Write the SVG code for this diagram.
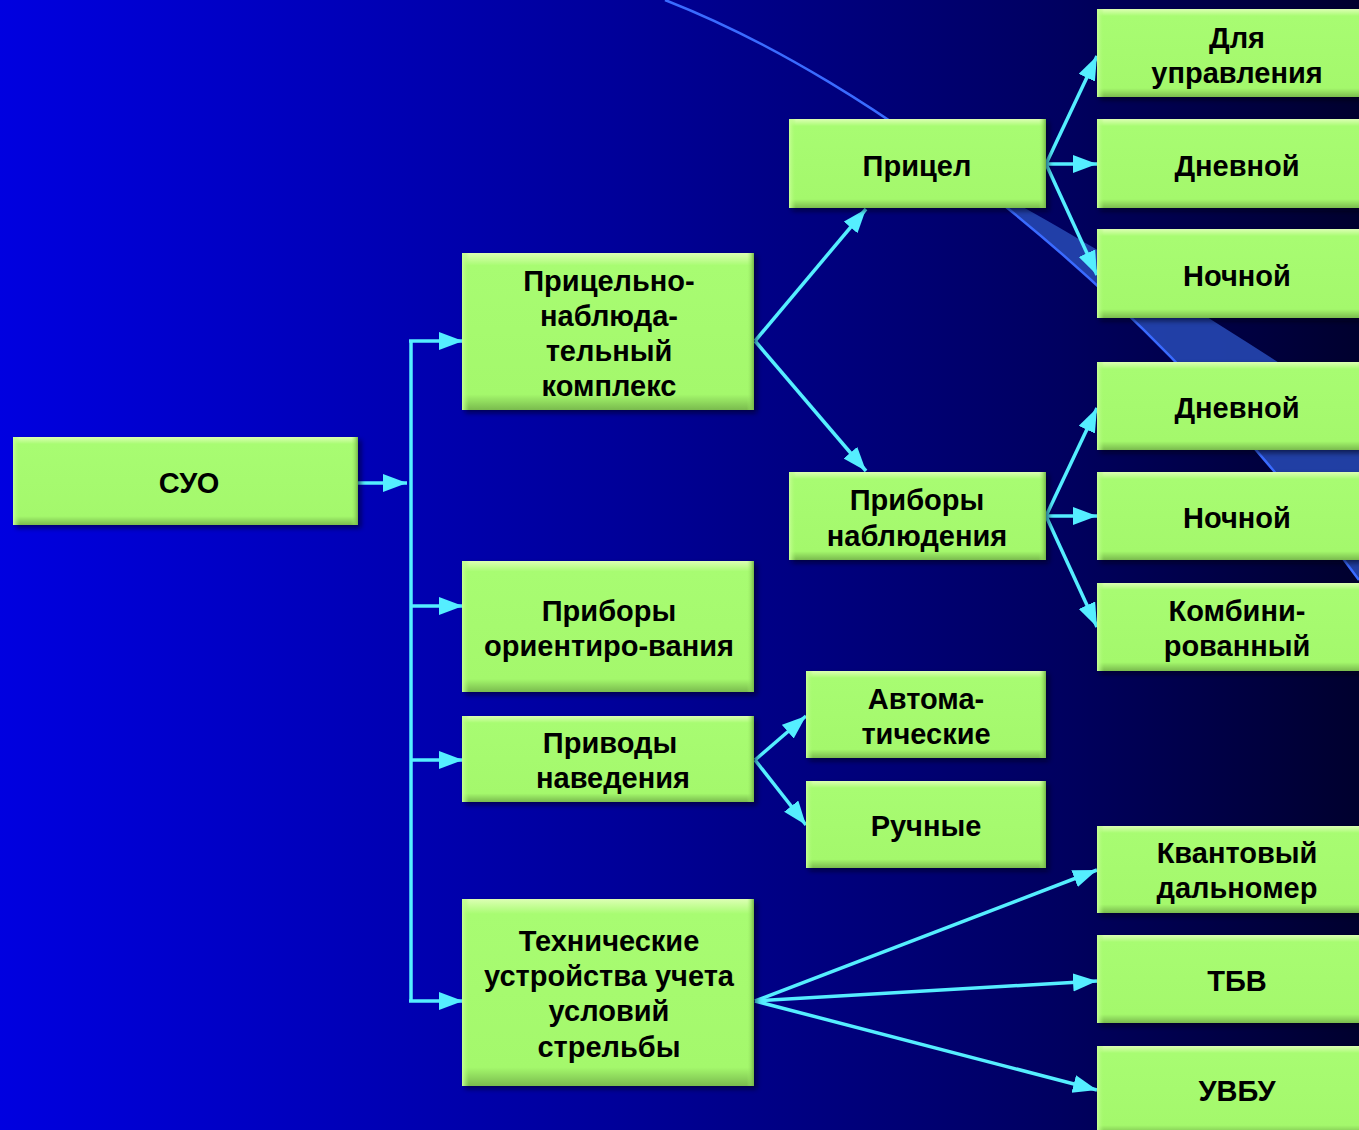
<svg xmlns="http://www.w3.org/2000/svg" width="1359" height="1130" viewBox="0 0 1359 1130">
<defs>
<linearGradient id="bg" x1="0" y1="0" x2="1" y2="0">
<stop offset="0" stop-color="#0000E0"/>
<stop offset="0.45" stop-color="#00009A"/>
<stop offset="0.78" stop-color="#000060"/>
<stop offset="1" stop-color="#00002E"/>
</linearGradient>
<linearGradient id="boxfill" x1="0" y1="0" x2="0" y2="1">
<stop offset="0" stop-color="#DDFFB4"/>
<stop offset="0.08" stop-color="#A8FC72"/>
<stop offset="0.9" stop-color="#A4F86C"/>
<stop offset="1" stop-color="#7ABB4E"/>
</linearGradient>
<linearGradient id="rshade" x1="0" y1="0" x2="1" y2="0">
<stop offset="0" stop-color="#A4F86C" stop-opacity="0"/>
<stop offset="1" stop-color="#74B548"/>
</linearGradient>
<linearGradient id="lhl" x1="0" y1="0" x2="1" y2="0">
<stop offset="0" stop-color="#C8FF98"/>
<stop offset="1" stop-color="#A6FA6E" stop-opacity="0"/>
</linearGradient>
<filter id="sh" x="-10%" y="-10%" width="130%" height="130%">
<feGaussianBlur stdDeviation="2.5"/>
</filter>
<marker id="ah" markerUnits="userSpaceOnUse" markerWidth="26" markerHeight="20" refX="24" refY="9" orient="auto">
<path d="M0,0 L24,9 L0,18 Z" fill="#55EEFF"/>
</marker>
<style>
.sh{fill:#000010;opacity:0.55;filter:url(#sh)}
.bx{fill:url(#boxfill)}
.rs{fill:url(#rshade)}
.lh{fill:url(#lhl)}
text{font-family:"Liberation Sans",Arial,sans-serif;font-weight:bold;font-size:29px;fill:#000;text-anchor:middle}
.cn{stroke:#55EEFF;stroke-width:3.5;fill:none}
</style>
</defs>
<rect x="0" y="0" width="1359" height="1130" fill="url(#bg)"/>
<g id="background-arc">
<path d="M970.7,179.1 C1060,225 1200,310 1359,415 L1359,580 C1238.55,415 1102.7,280.25 970.7,179.1 Z" fill="#2546B0" opacity="0.9"/>
<path d="M665,0 C870,80 1140,280 1359,580" fill="none" stroke="#3A6BFF" stroke-width="2.5"/>
</g>
<g id="connectors">
<path class="cn" d="M358,483 H407" marker-end="url(#ah)"/>
<path class="cn" d="M411,341 V1001"/>
<path class="cn" d="M409,341 H463" marker-end="url(#ah)"/>
<path class="cn" d="M411,606 H463" marker-end="url(#ah)"/>
<path class="cn" d="M411,760 H463" marker-end="url(#ah)"/>
<path class="cn" d="M409,1001 H463" marker-end="url(#ah)"/>
<path class="cn" d="M755,341 L866,209" marker-end="url(#ah)"/>
<path class="cn" d="M755,341 L866,471" marker-end="url(#ah)"/>
<path class="cn" d="M1046,164 L1097,56" marker-end="url(#ah)"/>
<path class="cn" d="M1046,164 L1097,164" marker-end="url(#ah)"/>
<path class="cn" d="M1046,164 L1097,275" marker-end="url(#ah)"/>
<path class="cn" d="M1046,516 L1097,408" marker-end="url(#ah)"/>
<path class="cn" d="M1046,516 L1097,516" marker-end="url(#ah)"/>
<path class="cn" d="M1046,516 L1097,627" marker-end="url(#ah)"/>
<path class="cn" d="M755,760 L806,716" marker-end="url(#ah)"/>
<path class="cn" d="M755,760 L806,825" marker-end="url(#ah)"/>
<path class="cn" d="M755,1001 L1097,870" marker-end="url(#ah)"/>
<path class="cn" d="M755,1001 L1097,981" marker-end="url(#ah)"/>
<path class="cn" d="M755,1001 L1097,1090" marker-end="url(#ah)"/>
</g>
<g id="node-suo">
<rect class="sh" x="16" y="440" width="345" height="88"/>
<rect class="bx" x="13" y="437" width="345" height="88"/>
<rect class="lh" x="13" y="437" width="7" height="88"/>
<rect class="rs" x="351" y="437" width="7" height="88"/>
<text x="189" y="493">СУО</text>
</g>
<g id="node-pnk">
<rect class="sh" x="465" y="256" width="292" height="157"/>
<rect class="bx" x="462" y="253" width="292" height="157"/>
<rect class="lh" x="462" y="253" width="7" height="157"/>
<rect class="rs" x="747" y="253" width="7" height="157"/>
<text x="609" y="291">Прицельно-</text>
<text x="609" y="326">наблюда-</text>
<text x="609" y="361">тельный</text>
<text x="609" y="396">комплекс</text>
</g>
<g id="node-orient">
<rect class="sh" x="465" y="564" width="292" height="131"/>
<rect class="bx" x="462" y="561" width="292" height="131"/>
<rect class="lh" x="462" y="561" width="7" height="131"/>
<rect class="rs" x="747" y="561" width="7" height="131"/>
<text x="609" y="621">Приборы</text>
<text x="609" y="656">ориентиро-вания</text>
</g>
<g id="node-privody">
<rect class="sh" x="465" y="719" width="292" height="86"/>
<rect class="bx" x="462" y="716" width="292" height="86"/>
<rect class="lh" x="462" y="716" width="7" height="86"/>
<rect class="rs" x="747" y="716" width="7" height="86"/>
<text x="610" y="753">Приводы</text>
<text x="613" y="788">наведения</text>
</g>
<g id="node-tech">
<rect class="sh" x="465" y="902" width="292" height="187"/>
<rect class="bx" x="462" y="899" width="292" height="187"/>
<rect class="lh" x="462" y="899" width="7" height="187"/>
<rect class="rs" x="747" y="899" width="7" height="187"/>
<text x="609" y="951">Технические</text>
<text x="609" y="986">устройства учета</text>
<text x="609" y="1021">условий</text>
<text x="609" y="1057">стрельбы</text>
</g>
<g id="node-pricel">
<rect class="sh" x="792" y="122" width="257" height="89"/>
<rect class="bx" x="789" y="119" width="257" height="89"/>
<rect class="lh" x="789" y="119" width="7" height="89"/>
<rect class="rs" x="1039" y="119" width="7" height="89"/>
<text x="917" y="176">Прицел</text>
</g>
<g id="node-nabl">
<rect class="sh" x="792" y="475" width="257" height="88"/>
<rect class="bx" x="789" y="472" width="257" height="88"/>
<rect class="lh" x="789" y="472" width="7" height="88"/>
<rect class="rs" x="1039" y="472" width="7" height="88"/>
<text x="917" y="510">Приборы</text>
<text x="917" y="546">наблюдения</text>
</g>
<g id="node-avto">
<rect class="sh" x="809" y="674" width="240" height="87"/>
<rect class="bx" x="806" y="671" width="240" height="87"/>
<rect class="lh" x="806" y="671" width="7" height="87"/>
<rect class="rs" x="1039" y="671" width="7" height="87"/>
<text x="926" y="709">Автома-</text>
<text x="926" y="744">тические</text>
</g>
<g id="node-ruch">
<rect class="sh" x="809" y="784" width="240" height="87"/>
<rect class="bx" x="806" y="781" width="240" height="87"/>
<rect class="lh" x="806" y="781" width="7" height="87"/>
<rect class="rs" x="1039" y="781" width="7" height="87"/>
<text x="926" y="836">Ручные</text>
</g>
<g id="node-dlya-upr">
<rect class="sh" x="1100" y="12" width="262" height="88"/>
<rect class="bx" x="1097" y="9" width="262" height="88"/>
<rect class="lh" x="1097" y="9" width="7" height="88"/>
<text x="1237" y="48">Для</text>
<text x="1237" y="83">управления</text>
</g>
<g id="node-dnevnoy-1">
<rect class="sh" x="1100" y="122" width="262" height="89"/>
<rect class="bx" x="1097" y="119" width="262" height="89"/>
<rect class="lh" x="1097" y="119" width="7" height="89"/>
<text x="1237" y="176">Дневной</text>
</g>
<g id="node-nochnoy-1">
<rect class="sh" x="1100" y="232" width="262" height="89"/>
<rect class="bx" x="1097" y="229" width="262" height="89"/>
<rect class="lh" x="1097" y="229" width="7" height="89"/>
<text x="1237" y="286">Ночной</text>
</g>
<g id="node-dnevnoy-2">
<rect class="sh" x="1100" y="365" width="262" height="88"/>
<rect class="bx" x="1097" y="362" width="262" height="88"/>
<rect class="lh" x="1097" y="362" width="7" height="88"/>
<text x="1237" y="418">Дневной</text>
</g>
<g id="node-nochnoy-2">
<rect class="sh" x="1100" y="475" width="262" height="88"/>
<rect class="bx" x="1097" y="472" width="262" height="88"/>
<rect class="lh" x="1097" y="472" width="7" height="88"/>
<text x="1237" y="528">Ночной</text>
</g>
<g id="node-kombi">
<rect class="sh" x="1100" y="586" width="262" height="88"/>
<rect class="bx" x="1097" y="583" width="262" height="88"/>
<rect class="lh" x="1097" y="583" width="7" height="88"/>
<text x="1237" y="621">Комбини-</text>
<text x="1237" y="656">рованный</text>
</g>
<g id="node-kvant">
<rect class="sh" x="1100" y="829" width="262" height="87"/>
<rect class="bx" x="1097" y="826" width="262" height="87"/>
<rect class="lh" x="1097" y="826" width="7" height="87"/>
<text x="1237" y="863">Квантовый</text>
<text x="1237" y="898">дальномер</text>
</g>
<g id="node-tbv">
<rect class="sh" x="1100" y="938" width="262" height="88"/>
<rect class="bx" x="1097" y="935" width="262" height="88"/>
<rect class="lh" x="1097" y="935" width="7" height="88"/>
<text x="1237" y="991">ТБВ</text>
</g>
<g id="node-uvbu">
<rect class="sh" x="1100" y="1049" width="262" height="88"/>
<rect class="bx" x="1097" y="1046" width="262" height="88"/>
<rect class="lh" x="1097" y="1046" width="7" height="88"/>
<text x="1237" y="1101">УВБУ</text>
</g>
</svg>
